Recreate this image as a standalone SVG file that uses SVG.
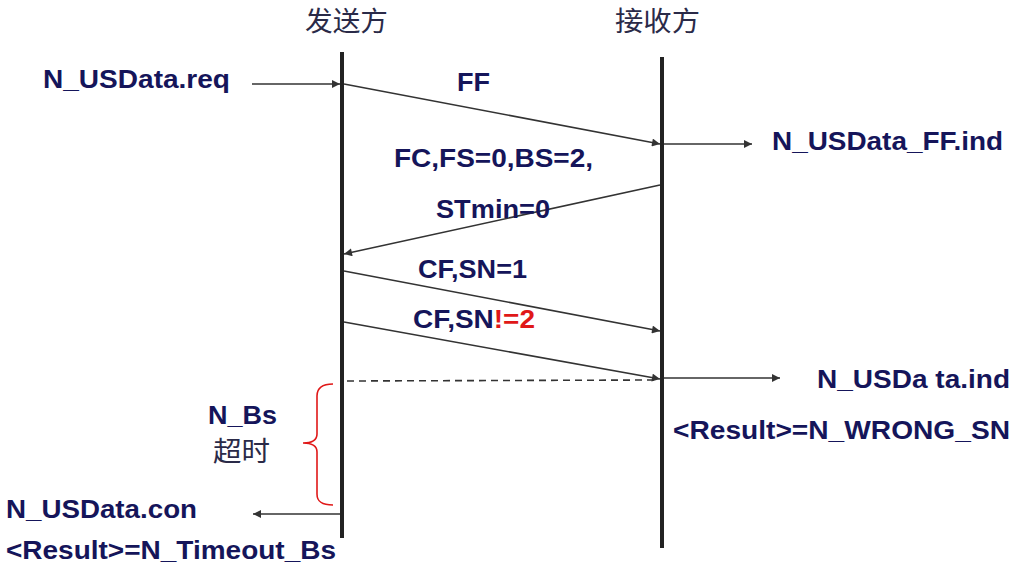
<svg xmlns="http://www.w3.org/2000/svg" width="1014" height="571" viewBox="0 0 1014 571">
<defs>
<marker id="ah" viewBox="0 0 10 10" refX="10" refY="5" markerWidth="10" markerHeight="8" markerUnits="userSpaceOnUse" orient="auto">
<path d="M0,0 L10,5 L0,10 z" fill="#333"/>
</marker>
<style>
.lbl{font-family:"Liberation Sans",Arial,sans-serif;font-weight:bold;font-size:26px;fill:#15155a;}
.cjk{font-family:"Noto Sans CJK SC","Noto Sans",sans-serif;font-size:27px;fill:#2a2a48;}
.life{stroke:#222;stroke-width:4;}
.msg{stroke:#333;stroke-width:1.6;fill:none;marker-end:url(#ah);}
.red{fill:#e01818;}
</style>
</defs>
<rect width="1014" height="571" fill="#ffffff"/>
<g id="sender">
<text class="cjk" x="305" y="31" textLength="83" lengthAdjust="spacingAndGlyphs">发送方</text>
<line class="life" x1="342" y1="52" x2="342" y2="538"/>
</g>
<g id="receiver">
<text class="cjk" x="615" y="31" textLength="85" lengthAdjust="spacingAndGlyphs">接收方</text>
<line class="life" x1="662" y1="57" x2="662" y2="548"/>
</g>
<g id="connectors">
<line class="msg" x1="252" y1="84" x2="340" y2="84"/>
<line class="msg" x1="344" y1="84" x2="660" y2="144"/>
<line class="msg" x1="664" y1="144" x2="752" y2="144"/>
<line class="msg" x1="660" y1="185" x2="344" y2="254"/>
<line class="msg" x1="344" y1="271" x2="660" y2="331"/>
<line class="msg" x1="344" y1="322" x2="660" y2="379"/>
<line x1="347" y1="381" x2="658" y2="380" stroke="#333" stroke-width="1.6" stroke-dasharray="7,5"/>
<line class="msg" x1="664" y1="378" x2="780" y2="378"/>
<line class="msg" x1="340" y1="514" x2="253" y2="514"/>
</g>
<g id="req"><text class="lbl" x="43" y="88" textLength="187" lengthAdjust="spacingAndGlyphs">N_USData.req</text></g>
<g id="ff"><text class="lbl" x="457" y="91" textLength="33" lengthAdjust="spacingAndGlyphs">FF</text></g>
<g id="ffind"><text class="lbl" x="772" y="150" textLength="231" lengthAdjust="spacingAndGlyphs">N_USData_FF.ind</text></g>
<g id="fc">
<text class="lbl" x="394" y="167" textLength="199" lengthAdjust="spacingAndGlyphs">FC,FS=0,BS=2,</text>
<text class="lbl" x="436" y="218" textLength="114" lengthAdjust="spacingAndGlyphs">STmin=0</text>
</g>
<g id="cf1"><text class="lbl" x="418" y="278" textLength="109" lengthAdjust="spacingAndGlyphs">CF,SN=1</text></g>
<g id="cf2"><text class="lbl" x="413" y="328" textLength="122" lengthAdjust="spacingAndGlyphs">CF,SN<tspan class="red">!=2</tspan></text></g>
<g id="ind">
<text class="lbl" x="817" y="388" textLength="193" lengthAdjust="spacingAndGlyphs">N_USDa ta.ind</text>
<text class="lbl" x="673" y="439" textLength="337" lengthAdjust="spacingAndGlyphs">&lt;Result&gt;=N_WRONG_SN</text>
</g>
<g id="timer">
<path d="M333,384 C322,384 317,388 317,396 L317,434 C317,440 312,443 303,443 C312,443 317,446 317,452 L317,494 C317,502 322,505 333,505" fill="none" stroke="#e01818" stroke-width="1.6"/>
<text class="lbl" x="208" y="424" textLength="69" lengthAdjust="spacingAndGlyphs">N_Bs</text>
<text class="cjk" x="213" y="461" textLength="57" lengthAdjust="spacingAndGlyphs">超时</text>
</g>
<g id="con">
<text class="lbl" x="6" y="518" textLength="191" lengthAdjust="spacingAndGlyphs">N_USData.con</text>
<text class="lbl" x="6" y="559" textLength="330" lengthAdjust="spacingAndGlyphs">&lt;Result&gt;=N_Timeout_Bs</text>
</g>
</svg>
